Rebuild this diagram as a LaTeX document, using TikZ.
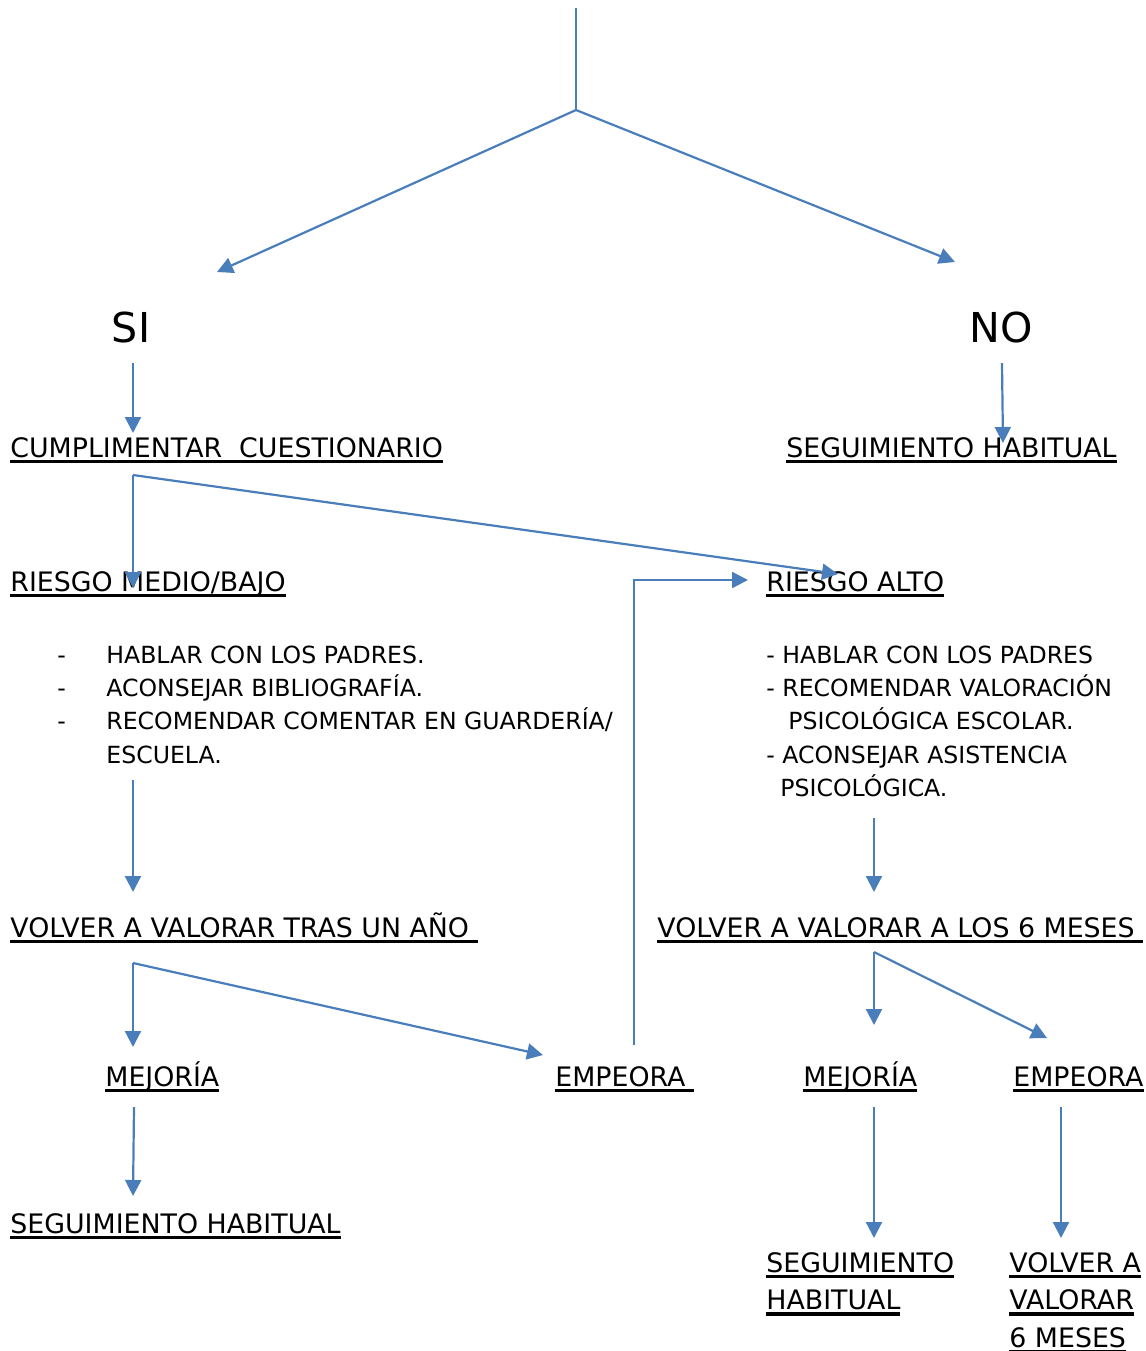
\documentclass[tikz,border=0pt]{standalone}
\usepackage{fontspec}
\setmainfont{DejaVu Sans}
\usetikzlibrary{arrows.meta}
\definecolor{azul}{RGB}{74,126,187}
\newcommand\subr[1]{\setbox0=\hbox{#1}\rlap{\rule[-3pt]{\wd0}{1.6pt}}\box0}
\newcommand\guion{\makebox[24.5pt][l]{-}}

\begin{document}
\begin{tikzpicture}[x=0.5pt,y=-0.5pt,->,>={Triangle[length=8pt,width=8pt]},
    linea/.style={draw=azul,line width=1.1pt}, every edge/.style={linea},
    etiq/.style={anchor=base west,inner sep=0pt,font=\fontsize{13.4pt}{18.75pt}\selectfont},
    grande/.style={anchor=base,inner sep=0pt,font=\fontsize{20.6pt}{24pt}\selectfont},
    lista/.style={anchor=base west,inner sep=0pt,font=\fontsize{11.8pt}{16.67pt}\selectfont}]
  \useasboundingbox (0,0) rectangle (1146,1351);

  \node[grande] (si) at (131,342) {SI};
  \node[grande] (no) at (1001,342) {NO};
  \node[etiq] (cump) at (10,457) {\subr{CUMPLIMENTAR\ \ CUESTIONARIO}};
  \node[etiq] (seghab) at (786,457) {\subr{SEGUIMIENTO HABITUAL}};
  \node[etiq] (medio) at (10,591) {\subr{RIESGO MEDIO/BAJO}};
  \node[etiq] (alto) at (766,591) {\subr{RIESGO ALTO}};
  \node[lista] (accmedio) at (57,663) {\begin{tabular}[t]{@{}l@{}}
      \guion HABLAR CON LOS PADRES.\\
      \guion ACONSEJAR BIBLIOGRAFÍA.\\
      \guion RECOMENDAR COMENTAR EN GUARDERÍA/\\
      \hspace{24.5pt}ESCUELA.\end{tabular}};
  \node[lista] (accalto) at (766,663) {\begin{tabular}[t]{@{}l@{}}
      - HABLAR CON LOS PADRES\\
      - RECOMENDAR VALORACIÓN\\
      \hspace{11pt}PSICOLÓGICA ESCOLAR.\\
      - ACONSEJAR ASISTENCIA\\
      \hspace{7pt}PSICOLÓGICA.\end{tabular}};
  \node[etiq] (anio) at (10,937) {\subr{VOLVER A VALORAR TRAS UN AÑO\ }};
  \node[etiq] (meses) at (657,937) {\subr{VOLVER A VALORAR A LOS 6 MESES\ }};
  \node[etiq] (mejora1) at (105,1086) {\subr{MEJORÍA}};
  \node[etiq] (empeora1) at (555,1086) {\subr{EMPEORA\ }};
  \node[etiq] (mejora2) at (803,1086) {\subr{MEJORÍA}};
  \node[etiq] (empeora2) at (1013,1086) {\subr{EMPEORA}};
  \node[etiq] (seghab2) at (10,1233) {\subr{SEGUIMIENTO HABITUAL}};
  \node[etiq] (seghab3) at (766,1272) {\begin{tabular}[t]{@{}l@{}}
      \subr{SEGUIMIENTO}\\ \subr{HABITUAL}\end{tabular}};
  \node[etiq] (revalorar) at (1009,1272) {\begin{tabular}[t]{@{}l@{}}
      \subr{VOLVER A}\\ \subr{VALORAR}\\ \subr{6 MESES}\end{tabular}};

  % puntos de las flechas
  \coordinate (arriba) at (576,8);
  \coordinate (rama) at (576,110);
  \coordinate (haciasi) at (217,272);
  \coordinate (haciano) at (955,262);
  \coordinate (sisale) at (133,363);
  \coordinate (cumpentra) at (133,433);
  \coordinate (nosale) at (1002,363);
  \coordinate (segentra) at (1003,443);
  \coordinate (cumpsale) at (133,475);
  \coordinate (medioentra) at (133,588);
  \coordinate (altoentra) at (838,574);
  \coordinate (mediosale) at (133,780);
  \coordinate (anioentra) at (133,892);
  \coordinate (altosale) at (874,818);
  \coordinate (mesesentra) at (874,892);
  \coordinate (aniosale) at (133,963);
  \coordinate (mej1entra) at (133,1047);
  \coordinate (emp1entra) at (543,1055);
  \coordinate (emp1sale) at (634,1045);
  \coordinate (vuelvealto) at (748,580);
  \coordinate (mesessale) at (874,952);
  \coordinate (mej2entra) at (874,1025);
  \coordinate (emp2entra) at (1047,1038);
  \coordinate (mej1sale) at (134,1107);
  \coordinate (seg2entra) at (133,1196);
  \coordinate (mej2sale) at (874,1107);
  \coordinate (seg3entra) at (874,1238);
  \coordinate (emp2sale) at (1061,1107);
  \coordinate (revalentra) at (1061,1238);

  \path (arriba) edge[-] (rama)
        (rama) edge (haciasi)
        (rama) edge (haciano)
        (sisale) edge (cumpentra)
        (nosale) edge (segentra)
        (cumpsale) edge (medioentra)
        (cumpsale) edge (altoentra)
        (mediosale) edge (anioentra)
        (altosale) edge (mesesentra)
        (aniosale) edge (mej1entra)
        (aniosale) edge (emp1entra)
        (mesessale) edge (mej2entra)
        (mesessale) edge (emp2entra)
        (mej1sale) edge (seg2entra)
        (mej2sale) edge (seg3entra)
        (emp2sale) edge (revalentra);
  \draw[linea] (emp1sale) |- (vuelvealto);
\end{tikzpicture}
\end{document}
